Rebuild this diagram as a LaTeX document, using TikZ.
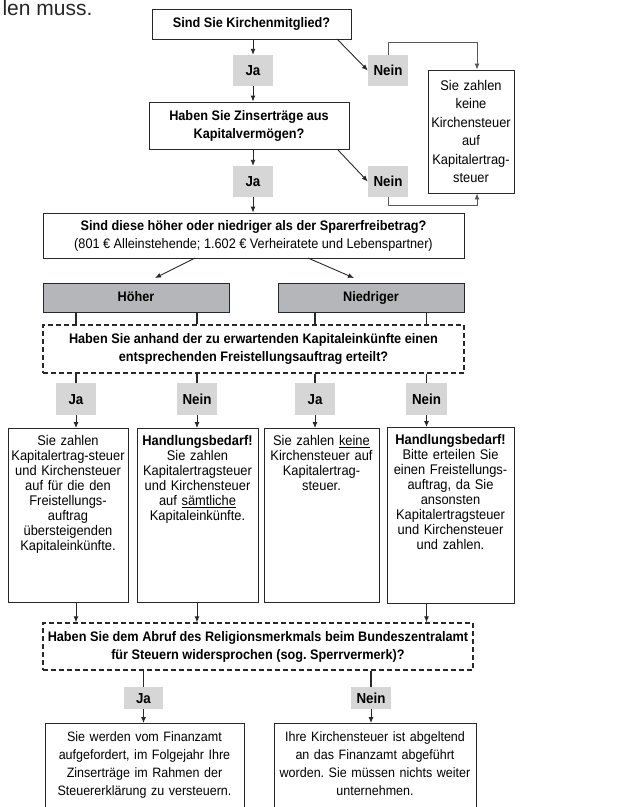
\documentclass[tikz,border=0pt]{standalone}
\usepackage{fontspec}
\setmainfont{Liberation Sans}[FakeStretch=0.92]
\newfontfamily\seitenfont{Liberation Sans}
\usetikzlibrary{arrows.meta}
\frenchspacing

\definecolor{jagrau}{RGB}{214,214,214}
\definecolor{teilgrau}{RGB}{180,182,185}
\definecolor{linie}{RGB}{40,40,40}

% Text oben im Kasten
\newcommand{\oben}[2]{\parbox[t][#1][t]{\linewidth}{\centering #2}}

\begin{document}
\begin{tikzpicture}[x=1pt,y=-1pt,
    every node/.style={font=\fontsize{14}{15}\selectfont},
    frage/.style={draw=linie, line width=0.9pt, fill=white, align=center, inner sep=0pt, font=\fontsize{13.8}{18}\selectfont\bfseries},
    antwort/.style={fill=jagrau, inner sep=0pt, minimum width=40, minimum height=31, text height=10, text depth=0, font=\fontsize{14.5}{15}\selectfont\bfseries},
    teil/.style={draw=linie, line width=0.9pt, fill=teilgrau, inner sep=0pt, minimum width=186, minimum height=29, text height=10, text depth=3, font=\fontsize{13.8}{15}\selectfont\bfseries},
    pruef/.style={frage, dash pattern=on 5pt off 3pt, line width=1.3pt},
    ergebnis/.style={draw=linie, line width=0.9pt, fill=white, anchor=north, inner xsep=2pt, inner ysep=7pt, align=center},
    pfeil/.style={draw=linie, line width=0.9pt, -{Latex[length=6pt,width=5pt]}},
    strich/.style={draw=linie, line width=1.2pt}]

\useasboundingbox (0,0) rectangle (629,807);
\clip (0,0) rectangle (629,807);

\node[anchor=base west, font=\fontsize{21}{21}\seitenfont, text=black!85] (rest) at (-1,15) {len muss.};

% oberer Teil
\node[frage, minimum width=199, minimum height=30] (kirche) at (251.5,24) {Sind Sie Kirchenmitglied?};
\node[antwort] (ja1) at (253,70.5) {Ja};
\node[antwort] (nein1) at (388,70.5) {Nein};
\node[draw=linie, line width=0.9pt, minimum width=86, minimum height=123, text width=84, align=center, inner sep=0pt,
      font=\fontsize{14}{18.5}\selectfont] (keine) at (471,131.5)
      {Sie zahlen\\keine\\Kirchensteuer\\auf\\Kapitalertrag-\\steuer};
\node[frage, minimum width=200, minimum height=47] (zins) at (249,125.5) {Haben Sie Zinserträge aus\\Kapitalvermögen?};
\node[antwort] (ja2) at (253,181.5) {Ja};
\node[antwort] (nein2) at (388,181.5) {Nein};
\node[frage, minimum width=421, minimum height=45] (spar) at (253.5,235.5)
      {Sind diese höher oder niedriger als der Sparerfreibetrag?\\
       {\mdseries(801 € Alleinstehende; 1.602 € Verheiratete und Lebenspartner)}};

\draw[pfeil] (kirche.south -| ja1) -- (ja1.north);
\draw[pfeil] (ja1.south) -- (ja1.south |- zins.north);
\draw[pfeil] (zins.south -| ja2) -- (ja2.north);
\draw[pfeil] (ja2.south) -- (ja2.south |- spar.north);
\draw[pfeil] (337,39) -- (nein1.west);
\draw[pfeil] (338,150) -- (nein2.west);
\draw[pfeil, draw=black!65] (nein1.north) -- ++(0,-12) -| ([xshift=6]keine.north);
\draw[pfeil, draw=black!65] (nein2.south) -- ++(0,8) -| ([xshift=6]keine.south);

% hoeher / niedriger
\node[teil] (hoeher) at (136,297.5) {Höher};
\node[teil] (niedriger) at (371,297.5) {Niedriger};
\draw[pfeil] (195,258) -- (155,278);
\draw[pfeil] (308,258) -- (354,278);

\node[pruef, minimum width=421, minimum height=48] (auftrag) at (253.5,349)
      {Haben Sie anhand der zu erwartenden Kapitaleinkünfte einen\\entsprechenden Freistellungsauftrag erteilt?};

\node[antwort, minimum height=32] (jaA) at (76,399) {Ja};
\node[antwort, minimum height=32] (neinB) at (197,399) {Nein};
\node[antwort, minimum height=32] (jaC) at (315,399) {Ja};
\node[antwort, minimum height=32, minimum width=41] (neinD) at (426.5,399) {Nein};

\foreach \von/\nach in {hoeher/jaA, hoeher/neinB, niedriger/jaC, niedriger/neinD} {
  \draw[strich] (\von.south -| \nach) -- (auftrag.north -| \nach);
  \draw[strich] (auftrag.south -| \nach) -- (\nach.north);
}

\node[ergebnis, text width=116] (resA) at (68,428) {\oben{160pt}{Sie zahlen\\Kapitalertrag-steuer\\und Kirchensteuer\\auf für die den\\Freistellungs-\\auftrag\\übersteigenden\\Kapitaleinkünfte.}};
\node[ergebnis, text width=117] (resB) at (197.5,428) {\oben{160pt}{\textbf{Handlungsbedarf!}\\Sie zahlen\\Kapitalertragsteuer\\und Kirchensteuer\\auf \underline{sämtliche}\\Kapitaleinkünfte.}};
\node[ergebnis, text width=111] (resC) at (321.5,428) {\oben{160pt}{Sie zahlen \underline{keine}\\Kirchensteuer auf\\Kapitalertrag-\\steuer.}};
\node[ergebnis, text width=123] (resD) at (450.5,427) {\oben{162pt}{\textbf{Handlungsbedarf!}\\Bitte erteilen Sie\\einen Freistellungs-\\auftrag, da Sie\\ansonsten\\Kapitalertragsteuer\\und Kirchensteuer\\und zahlen.}};

\foreach \n/\r in {jaA/resA, neinB/resB, jaC/resC, neinD/resD}
  \draw[pfeil] (\n.south) -- (\n.south |- \r.north);

% Sperrvermerk
\node[pruef, minimum width=430, minimum height=47] (sperr) at (258,646.5)
      {Haben Sie dem Abruf des Religionsmerkmals beim Bundeszentralamt\\für Steuern widersprochen (sog. Sperrvermerk)?};
\foreach \r/\n in {resA/jaA, resB/neinB, resD/neinD}
  \draw[pfeil] (\r.south -| \n) -- (sperr.north -| \n);

\node[antwort, minimum width=39, minimum height=22] (ja3) at (143.5,698) {Ja};
\node[antwort, minimum height=22] (nein3) at (371,698) {Nein};
\draw[strich] (sperr.south -| ja3) -- (ja3.north);
\draw[strich] (sperr.south -| nein3) -- (nein3.north);

\node[ergebnis, text width=197, inner xsep=1pt, inner ysep=8pt, font=\fontsize{13.6}{18}\selectfont] (resE) at (144.5,723)
      {\oben{100pt}{Sie werden vom Finanzamt\\aufgefordert, im Folgejahr Ihre\\Zinserträge im Rahmen der\\Steuererklärung zu versteuern.}};
\node[ergebnis, text width=200, inner xsep=1pt, inner ysep=8pt, font=\fontsize{13.6}{18}\selectfont] (resF) at (375,723)
      {\oben{100pt}{Ihre Kirchensteuer ist abgeltend\\an das Finanzamt abgeführt\\worden. Sie müssen nichts weiter\\unternehmen.}};
\draw[pfeil] (ja3.south) -- (ja3.south |- resE.north);
\draw[pfeil] (nein3.south) -- (nein3.south |- resF.north);

\end{tikzpicture}
\end{document}
